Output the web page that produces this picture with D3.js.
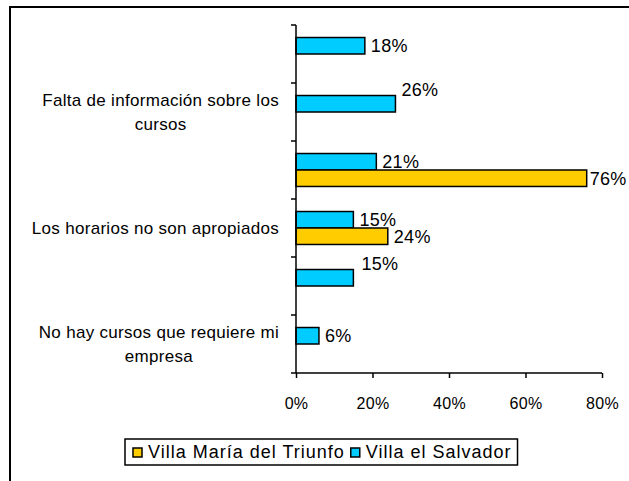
<!DOCTYPE html>
<html>
<head>
<meta charset="utf-8">
<script src="https://cdn.jsdelivr.net/npm/d3@7"></script>
<style>
  body { margin: 0; background: #fff; }
  text { font-family: "Liberation Sans", Arial, sans-serif; fill: #000; }
</style>
</head>
<body>
<script>
// Categories top to bottom; Excel skipped every other label, so those are blank
var categories = ["", "Falta de información sobre los\ncursos", "", "Los horarios no son apropiados", "", "No hay cursos que requiere mi\nempresa"];
var seriesNames = ["Villa el Salvador", "Villa María del Triunfo"];
var salvador = [0.18, 0.26, 0.21, 0.15, 0.15, 0.06];
var triunfo = [null, null, 0.76, 0.24, null, null];
var xTicks = [0, 0.2, 0.4, 0.6, 0.8];
var legendOrder = ["Villa María del Triunfo", "Villa el Salvador"];

var colors = { "Villa el Salvador": "#00CCFF", "Villa María del Triunfo": "#FFCC00" };
// manual label nudges (labels that were dragged around in the original)
var labelNudge = {
    "1|Villa el Salvador": { dx: 0, dy: -14 },
    "4|Villa el Salvador": { dx: 2, dy: -14 },
    "2|Villa María del Triunfo": { dx: -3, dy: 0 }
};

var W = 629, H = 481;
var margin = { top: 25, left: 296, right: 27, bottom: 108 };

var svg = d3.select("body").append("svg")
    .attr("width", W)
    .attr("height", H);

// outer chart border (runs off the right/bottom edges)
svg.append("rect")
    .attr("x", 10).attr("y", 7)
    .attr("width", 700).attr("height", 600)
    .attr("fill", "#fff")
    .attr("stroke", "#000")
    .attr("stroke-width", 2);

var x = d3.scaleLinear().domain([0, 0.8]).range([margin.left, W - margin.right]);
var y0 = d3.scaleBand().domain(d3.range(categories.length))
    .range([margin.top, H - margin.bottom]).paddingInner(0).paddingOuter(0);
var y1 = d3.scaleBand().domain(seriesNames)
    .range([0, y0.bandwidth()]).paddingInner(0).paddingOuter(0.76);

var rows = categories.map(function (c, i) {
    return { i: i, values: [
        { name: seriesNames[0], v: salvador[i] },
        { name: seriesNames[1], v: triunfo[i] }
    ].filter(function (d) { return d.v != null; }) };
});

// bars
var groups = svg.selectAll(".cat")
    .data(rows)
    .enter().append("g")
    .attr("class", "cat")
    .attr("transform", function (d) { return "translate(0," + y0(d.i) + ")"; });

groups.selectAll("rect")
    .data(function (d) { return d.values; })
    .enter().append("rect")
    .attr("x", x(0))
    .attr("y", function (d) { return y1(d.name); })
    .attr("width", function (d) { return x(d.v) - x(0); })
    .attr("height", y1.bandwidth())
    .attr("fill", function (d) { return colors[d.name]; })
    .attr("stroke", "#000")
    .attr("stroke-width", 1.5);

// value labels
groups.each(function (row) {
    d3.select(this).selectAll(".val")
        .data(row.values)
        .enter().append("text")
        .attr("class", "val")
        .attr("x", function (d) {
            var n = labelNudge[row.i + "|" + d.name];
            return x(d.v) + 6 + (n ? n.dx : 0);
        })
        .attr("y", function (d) {
            var n = labelNudge[row.i + "|" + d.name];
            return y1(d.name) + y1.bandwidth() / 2 + (n ? n.dy : 0);
        })
        .attr("dy", "0.36em")
        .attr("font-size", "18px")
        .attr("letter-spacing", "0.3px")
        .text(function (d) { return Math.round(d.v * 100) + "%"; });
});

// y axis (category boundaries as ticks)
var yAxis = svg.append("g");
yAxis.append("line")
    .attr("x1", x(0)).attr("x2", x(0))
    .attr("y1", margin.top).attr("y2", H - margin.bottom)
    .attr("stroke", "#000").attr("stroke-width", 1.5);
yAxis.selectAll(".ytick")
    .data(d3.range(categories.length + 1))
    .enter().append("line")
    .attr("x1", x(0) - 5).attr("x2", x(0))
    .attr("y1", function (d) { return d < categories.length ? y0(d) : H - margin.bottom; })
    .attr("y2", function (d) { return d < categories.length ? y0(d) : H - margin.bottom; })
    .attr("stroke", "#000").attr("stroke-width", 1.5);

// category labels, wrapped lines centred under each other, right edge near the axis
svg.selectAll(".catlabel")
    .data(rows.filter(function (d) { return categories[d.i] !== ""; }))
    .enter().append("text")
    .attr("class", "catlabel")
    .attr("font-size", "17px")
    .attr("letter-spacing", "0.3px")
    .attr("text-anchor", "middle")
    .each(function (d) {
        var t = d3.select(this);
        var lines = categories[d.i].split("\n");
        var lh = 24;
        var cy = y0(d.i) + y0.bandwidth() / 2 - (lines.length - 1) * lh / 2;
        lines.forEach(function (l, k) {
            t.append("tspan").attr("y", cy + k * lh).attr("dy", "0.36em").text(l);
        });
        var w = d3.max(t.selectAll("tspan").nodes(), function (n) { return n.getComputedTextLength(); });
        t.selectAll("tspan").attr("x", x(0) - 17 - w / 2);
    });

// x axis
var xAxis = d3.axisBottom(x)
    .tickValues(xTicks)
    .tickFormat(d3.format(".0%"))
    .tickSize(5)
    .tickPadding(20);
svg.append("g")
    .attr("transform", "translate(0," + (H - margin.bottom) + ")")
    .call(xAxis)
    .call(function (g) {
        g.select(".domain").attr("stroke-width", 1.5).attr("d", "M" + x(0) + ",0H" + x(0.8));
        g.selectAll(".tick line").attr("stroke-width", 1.5);
        g.selectAll(".tick text")
            .attr("font-size", "16px")
            .attr("letter-spacing", "0.3px")
            .attr("font-family", "Liberation Sans, Arial, sans-serif");
    });

// legend
var legend = svg.append("g").attr("transform", "translate(125,439)");
var legendBox = legend.append("rect")
    .attr("height", 26)
    .attr("fill", "#fff")
    .attr("stroke", "#000")
    .attr("stroke-width", 1.5);
var lx = 8;
legendOrder.forEach(function (name) {
    legend.append("rect")
        .attr("x", lx).attr("y", 9)
        .attr("width", 9).attr("height", 9)
        .attr("fill", colors[name])
        .attr("stroke", "#000").attr("stroke-width", 1.5);
    var t = legend.append("text")
        .attr("x", lx + 15).attr("y", 13)
        .attr("dy", "0.36em")
        .attr("font-size", "18px")
        .attr("letter-spacing", "1px")
        .text(name);
    lx += 15 + t.node().getComputedTextLength() + 6;
});
legendBox.attr("width", lx);
</script>
</body>
</html>
